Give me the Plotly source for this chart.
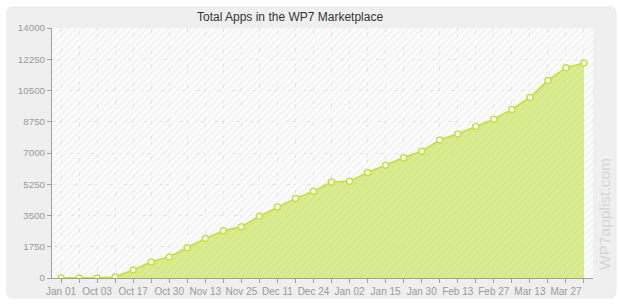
import plotly.graph_objects as go

# ---- data ----
dates = ["Jan 01", "Sep 26", "Oct 03", "Oct 10", "Oct 17", "Oct 24", "Oct 30", "Nov 06",
         "Nov 13", "Nov 19", "Nov 25", "Dec 04", "Dec 11", "Dec 18", "Dec 24", "Dec 28",
         "Jan 02", "Jan 08", "Jan 15", "Jan 22", "Jan 30", "Feb 06", "Feb 13", "Feb 20",
         "Feb 27", "Mar 06", "Mar 13", "Mar 20", "Mar 27", "Apr 03"]
total_apps = [0, 0, 0, 50, 450, 900, 1180, 1700, 2210, 2640, 2870, 3460, 3970, 4450,
              4860, 5370, 5420, 5910, 6320, 6740, 7100, 7730, 8070, 8480, 8890, 9440,
              10110, 11060, 11770, 12040]
y_ticks = [0, 1750, 3500, 5250, 7000, 8750, 10500, 12250, 14000]
y_tick_labels = ["0", "1750", "3500", "5250", "7000", "8750", "10500", "12250", "14000"]
title_text = "Total Apps in the WP7 Marketplace"
watermark = "WP7applist.com"

# ---- layout geometry (pixels) ----
W, H = 620, 305
ML, MR, MT, MB = 52, 27, 28, 27
pw, ph = W - ML - MR, H - MT - MB

def px_x(p):
    return (p - ML) / pw

def px_y(p):
    return (H - MB - p) / ph

idx = list(range(len(dates)))
x_range = [-0.5, len(dates) - 0.5]
y_range = [y_ticks[0], y_ticks[-1]]
tick_text = [d if i % 2 == 0 else "" for i, d in enumerate(dates)]

fig = go.Figure()

# hatched background of plot area
fig.add_trace(go.Scatter(
    x=[x_range[0], x_range[1], x_range[1], x_range[0], x_range[0]],
    y=[y_range[0], y_range[0], y_range[1], y_range[1], y_range[0]],
    mode="lines", line=dict(width=0), fill="toself",
    fillcolor="rgba(0,0,0,0)",
    fillpattern=dict(shape="/", fgcolor="#ffffff", bgcolor="rgba(0,0,0,0)",
                     size=5, solidity=0.35, fgopacity=1),
    hoverinfo="skip", showlegend=False,
))

# area
fig.add_trace(go.Scatter(
    x=idx, y=total_apps, mode="lines+markers",
    fill="tozeroy",
    fillcolor="rgba(211,234,121,0.85)",
    fillpattern=dict(shape="/", fgcolor="#c9de70", bgcolor="rgba(213,234,128,0.85)",
                     size=5, solidity=0.25, fgopacity=0.5),
    line=dict(color="#c6e040", width=1.8),
    marker=dict(size=6, color="#ffffff", line=dict(color="#c6e040", width=1.5)),
    showlegend=False,
))

r = 6
x0, x1 = px_x(7), px_x(616)
y0, y1 = px_y(298), px_y(7)
rx, ry = r / pw, r / ph
panel_path = (f"M {x0+rx},{y0} L {x1-rx},{y0} Q {x1},{y0} {x1},{y0+ry} "
              f"L {x1},{y1-ry} Q {x1},{y1} {x1-rx},{y1} L {x0+rx},{y1} "
              f"Q {x0},{y1} {x0},{y1-ry} L {x0},{y0+ry} Q {x0},{y0} {x0+rx},{y0} Z")

fig.update_layout(
    width=W, height=H, autosize=False,
    margin=dict(l=ML, r=MR, t=MT, b=MB, pad=0, autoexpand=False),
    paper_bgcolor="#ffffff",
    plot_bgcolor="rgba(0,0,0,0)",
    font=dict(family="Liberation Sans, Arial, sans-serif", size=10, color="#999999"),
    shapes=[
        dict(type="path", xref="paper", yref="paper", path=panel_path,
             fillcolor="#efefef", line=dict(color="#e8e8e8", width=1), layer="below"),
        dict(type="rect", xref="paper", yref="paper", x0=0, x1=1, y0=0, y1=1,
             fillcolor="#f5f5f5", line=dict(width=0), layer="below"),
    ],
    annotations=[
        dict(text=title_text, xref="paper", yref="paper", x=px_x(195), y=px_y(17),
             xanchor="left", yanchor="middle", showarrow=False,
             font=dict(size=12, color="#333333", family="Liberation Sans, Arial, sans-serif")),
        dict(text=watermark, xref="paper", yref="paper", x=px_x(604), y=px_y(214),
             xanchor="center", yanchor="middle", showarrow=False, textangle=-90,
             font=dict(size=15.5, color="#d6d6d6", family="Liberation Sans, Arial, sans-serif")),
    ],
    xaxis=dict(
        range=x_range, tickmode="array", tickvals=idx, ticktext=tick_text,
        showgrid=True, gridcolor="#e3e3e3", griddash="dash", gridwidth=1,
        zeroline=False, showline=True, linecolor="#a0a0a0", linewidth=1,
        ticks="outside", ticklen=4, tickcolor="#a0a0a0", automargin=False,
        tickfont=dict(size=10, color="#9a9a9a"), fixedrange=True,
    ),
    yaxis=dict(
        range=y_range, tickmode="array", tickvals=y_ticks, ticktext=y_tick_labels,
        showgrid=True, gridcolor="#e3e3e3", griddash="dash", gridwidth=1,
        zeroline=False, showline=True, linecolor="#a0a0a0", linewidth=1,
        ticks="outside", ticklen=4, tickcolor="#a0a0a0", automargin=False,
        tickfont=dict(size=9.8, color="#9a9a9a"), fixedrange=True,
    ),
)

fig.write_html("out.html")
